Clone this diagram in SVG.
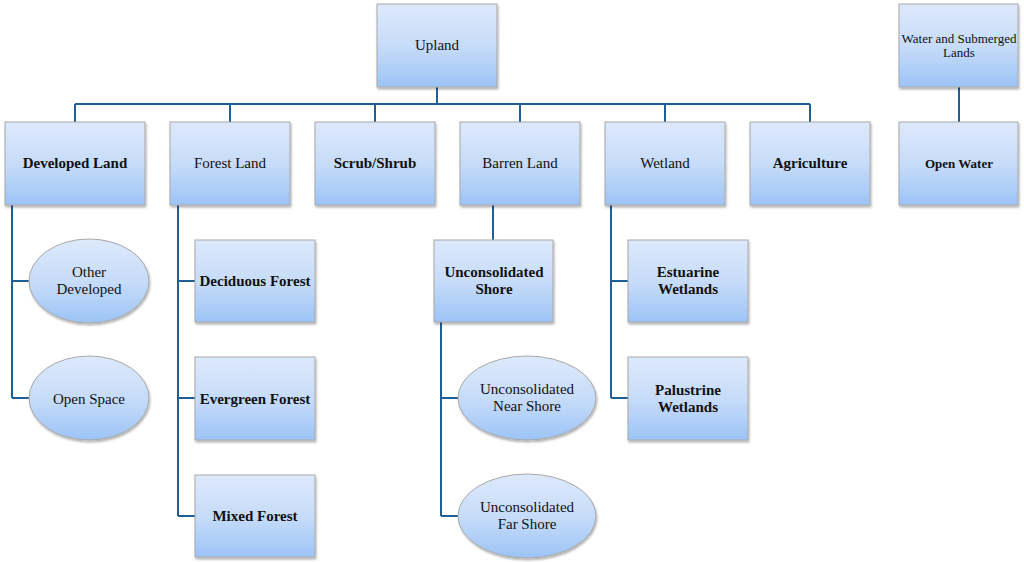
<svg xmlns="http://www.w3.org/2000/svg" width="1024" height="562" viewBox="0 0 1024 562">
<defs>
<linearGradient id="g" x1="0" y1="0" x2="0" y2="1">
<stop offset="0" stop-color="#dde9fb"/>
<stop offset="0.5" stop-color="#c7dcf9"/>
<stop offset="1" stop-color="#9cc4f6"/>
</linearGradient>
<filter id="sh" x="-10%" y="-10%" width="120%" height="125%">
<feDropShadow dx="1" dy="2" stdDeviation="1.2" flood-color="#000" flood-opacity="0.3"/>
</filter>
</defs>
<style>
.n{fill:url(#g);stroke:#a8a8a8;stroke-width:1;filter:url(#sh)}
.t{font-family:"Liberation Serif","Times New Roman",serif;font-size:15px;fill:#111;text-anchor:middle}
.b{font-weight:bold}
.s{font-size:13px}
.c{fill:none;stroke:#1f5f95;stroke-width:2}
</style>
<rect width="1024" height="562" fill="#fff"/>
<g id="connectors">
<path class="c" d="M437 87V104M75 104H810M75 104V122M230 104V122M375 104V122M520 104V122M665 104V122M810 104V122"/>
<path class="c" d="M959 87V122"/>
<path class="c" d="M12 205V398M12 281H30M12 398H30"/>
<path class="c" d="M178 205V516M178 281H195M178 398H195M178 516H195"/>
<path class="c" d="M493 205V240"/>
<path class="c" d="M441 322V516M441 398H458M441 516H458"/>
<path class="c" d="M611 205V398M611 281H628M611 398H628"/>
</g>
<g id="upland"><rect class="n" x="377" y="4" width="120" height="83"/><text class="t" x="437" y="50">Upland</text></g>
<g id="water"><rect class="n" x="899" y="4" width="119" height="83"/><text class="t s" x="959" y="43">Water and Submerged</text><text class="t s" x="959" y="57">Lands</text></g>
<g id="developed"><rect class="n" x="5" y="122" width="140" height="83"/><text class="t b" x="75" y="168">Developed Land</text></g>
<g id="forest"><rect class="n" x="170" y="122" width="120" height="83"/><text class="t" x="230" y="168">Forest Land</text></g>
<g id="scrub"><rect class="n" x="315" y="122" width="120" height="83"/><text class="t b" x="375" y="168">Scrub/Shrub</text></g>
<g id="barren"><rect class="n" x="460" y="122" width="120" height="83"/><text class="t" x="520" y="168">Barren Land</text></g>
<g id="wetland"><rect class="n" x="605" y="122" width="120" height="83"/><text class="t" x="665" y="168">Wetland</text></g>
<g id="agriculture"><rect class="n" x="750" y="122" width="120" height="83"/><text class="t b" x="810" y="168">Agriculture</text></g>
<g id="openwater"><rect class="n" x="899" y="122" width="119" height="83"/><text class="t b s" x="959" y="168">Open Water</text></g>
<g id="otherdev"><ellipse class="n" cx="89" cy="281" rx="60" ry="42"/><text class="t" x="89" y="277">Other</text><text class="t" x="89" y="294">Developed</text></g>
<g id="openspace"><ellipse class="n" cx="89" cy="398" rx="60" ry="42"/><text class="t" x="89" y="404">Open Space</text></g>
<g id="deciduous"><rect class="n" x="195" y="240" width="120" height="82"/><text class="t b" x="255" y="286">Deciduous Forest</text></g>
<g id="evergreen"><rect class="n" x="195" y="357" width="120" height="83"/><text class="t b" x="255" y="404">Evergreen Forest</text></g>
<g id="mixed"><rect class="n" x="195" y="475" width="120" height="82"/><text class="t b" x="255" y="521">Mixed Forest</text></g>
<g id="unconsolidated"><rect class="n" x="434" y="240" width="119" height="82"/><text class="t b" x="494" y="277">Unconsolidated</text><text class="t b" x="494" y="294">Shore</text></g>
<g id="nearshore"><ellipse class="n" cx="527" cy="398" rx="69" ry="42"/><text class="t" x="527" y="394">Unconsolidated</text><text class="t" x="527" y="411">Near Shore</text></g>
<g id="farshore"><ellipse class="n" cx="527" cy="516" rx="69" ry="42"/><text class="t" x="527" y="512">Unconsolidated</text><text class="t" x="527" y="529">Far Shore</text></g>
<g id="estuarine"><rect class="n" x="628" y="240" width="120" height="82"/><text class="t b" x="688" y="277">Estuarine</text><text class="t b" x="688" y="294">Wetlands</text></g>
<g id="palustrine"><rect class="n" x="628" y="357" width="120" height="83"/><text class="t b" x="688" y="395">Palustrine</text><text class="t b" x="688" y="412">Wetlands</text></g>
</svg>
